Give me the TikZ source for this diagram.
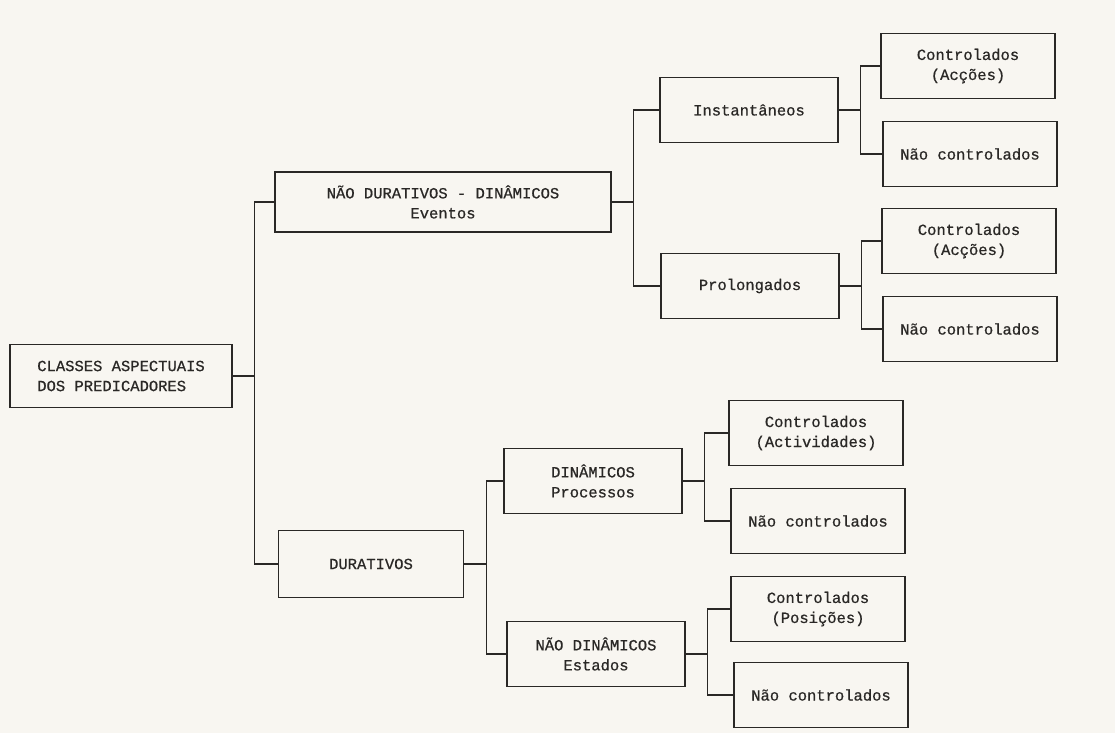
\documentclass[tikz,border=0pt]{standalone}
\usepackage{fontspec}
\newfontfamily\maquina[FakeBold=0.7]{Liberation Mono}
\definecolor{tinta}{HTML}{2A2826}
\definecolor{papel}{HTML}{F8F6F1}
\newcommand{\tipo}{\maquina\fontsize{15.5}{20}\selectfont}

\begin{document}
\begin{tikzpicture}[x=1pt,y=-1pt,
  caixa/.style={draw=tinta,line width=1.4pt,text=tinta,font=\tipo,align=center,
                minimum width=178pt,minimum height=65pt,inner sep=2pt},
  folha/.style={caixa,minimum width=174pt},
  ramo/.style={to path={-- ++(22,0) |- (\tikztotarget)}}]
\fill[papel] (0,0) rectangle (1115,733);
\useasboundingbox (0,0) rectangle (1115,733);

% raiz e primeiro nivel
\node[caixa,minimum width=222pt,minimum height=63pt,align=left] (raiz) at (121,376) {CLASSES ASPECTUAIS\\DOS PREDICADORES};
\node[caixa,minimum width=336pt,minimum height=60pt] (ndur) at (443,202) {NÃO DURATIVOS - DINÂMICOS\\Eventos};
\node[caixa,minimum width=185pt,minimum height=67pt] (dur)  at (371,564) {DURATIVOS};

% segundo nivel
\node[caixa] (inst) at (749,110) {Instantâneos};
\node[caixa] (prol) at (750,286) {Prolongados};
\node[caixa,align=left] (din)  at (593,481) {DINÂMICOS\\Processos};
\node[caixa] (ndin) at (596,654) {NÃO DINÂMICOS\\Estados};

% folhas
\node[folha] (inst-c) at (968,66)  {Controlados\\(Acções)};
\node[folha] (inst-n) at (970,154) {Não controlados};
\node[folha] (prol-c) at (969,241) {Controlados\\(Acções)};
\node[folha] (prol-n) at (970,329) {Não controlados};
\node[folha] (din-c)  at (816,433) {Controlados\\(Actividades)};
\node[folha] (din-n)  at (818,521) {Não controlados};
\node[folha] (ndin-c) at (818,609) {Controlados\\(Posições)};
\node[folha] (ndin-n) at (821,695) {Não controlados};

\path[ramo,tinta,line width=1.4pt]
(raiz.east) edge (ndur.west)
(raiz.east) edge (dur.west)

(ndur.east) edge (inst.west)
(ndur.east) edge (prol.west)
(dur.east)  edge (din.west)
(dur.east)  edge (ndin.west)

(inst.east) edge (inst-c.west)
(inst.east) edge (inst-n.west)
(prol.east) edge (prol-c.west)
(prol.east) edge (prol-n.west)
(din.east)  edge (din-c.west)
(din.east)  edge (din-n.west)
(ndin.east) edge (ndin-c.west)
(ndin.east) edge (ndin-n.west)
;
\end{tikzpicture}
\end{document}
